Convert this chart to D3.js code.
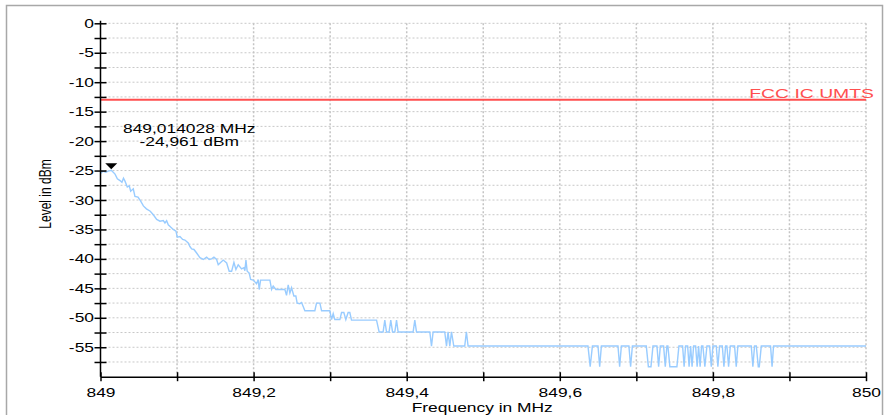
<!DOCTYPE html>
<html><head><meta charset="utf-8">
<script src="https://cdn.jsdelivr.net/npm/d3@7"></script>
<style>
html,body{margin:0;padding:0;background:#fff;}
text{font-family:"Liberation Sans",Arial,sans-serif;}
</style></head>
<body><svg id="c" width="889" height="415"></svg>
<script>
// ---- data ----
const xMajorTicks = [849, 849.2, 849.4, 849.6, 849.8, 850];
const xMinorTicks = [849.1, 849.3, 849.5, 849.7, 849.9];
const yMajorTicks = [0, -5, -10, -15, -20, -25, -30, -35, -40, -45, -50, -55];
const yMinorTicks = [-2.5, -7.5, -12.5, -17.5, -22.5, -27.5, -32.5, -37.5, -42.5, -47.5, -52.5, -57.5];
const xTitle = "Frequency in MHz";
const yTitle = "Level in dBm";
const limitLevel = -13;
const limitLabel = "FCC IC UMTS";
const markerFreq = 849.014028;
const markerLevel = -24.961;
const markerText = ["849,014028 MHz", "-24,961 dBm"];

const traceFreq = [
849.000,849.003,849.007,849.010,849.014,849.016,849.019,849.022,849.0255,849.028,849.030,849.032,849.035,849.0376,849.0394,849.0428,849.045,849.049,849.0525,849.056,849.060,849.065,849.069,849.0734,849.0777,849.082,849.0842,849.0864,849.0885,849.0916,849.095,849.0986,849.1003,849.1038,849.1073,849.1103,849.1146,849.1168,849.1191,849.1221,849.1256,849.1299,849.1342,849.1386,849.142,849.1452,849.1482,849.1517,849.1538,849.1569,849.1603,849.1648,849.1681,849.1713,849.1743,849.1769,849.1799,849.1843,849.1873,849.1886,849.190,849.1916,849.1943,849.1961,849.1995,849.2039,849.206,849.2073,849.2091,849.2213,849.2235,849.2256,849.2291,849.2409,849.243,849.2452,849.2474,849.2496,849.2526,849.2552,849.2569,849.2604,849.2627,849.267,849.280,849.2822,849.2866,849.2888,849.2996,849.3018,849.304,849.3061,849.3127,849.3149,849.3179,849.3205,849.3235,849.3257,849.3279,849.3606,849.364,849.3692,849.3714,849.3736,849.377,849.3792,849.3815,849.3845,849.3867,849.3888,849.4084,849.4106,849.4128,849.4302,849.4324,849.4345,849.4497,849.452,849.454,849.4563,849.4585,849.4615,849.4758,849.478,849.4802,
849.6368,849.6397,849.6426,849.6499,849.6521,849.6543,849.676,849.6782,849.6804,849.6903,849.6925,849.6948,849.713,849.7157,849.7191,849.7217,849.7269,849.7291,849.7313,849.7356,849.7378,849.7399,849.7412,849.7438,849.753,849.7556,849.7604,849.7624,849.7643,849.767,849.7689,849.7709,849.7728,849.7748,849.7774,849.7794,849.7813,849.7833,849.7852,849.7869,849.7895,849.7922,849.7957,849.7979,849.8,849.8044,849.8065,849.8087,849.8123,849.8144,849.8166,849.8183,849.8205,849.8227,849.8283,849.8305,849.8326,849.8501,849.8522,849.8544,849.8567,849.8593,849.8606,849.8632,849.8753,849.8773,849.8792,850.000
];
const traceLevel = [
-25.5,-25.1,-25.3,-25.1,-24.96,-25.2,-25.6,-26.4,-26.7,-27.0,-26.3,-26.8,-27.8,-27.6,-28.5,-28.1,-29.4,-29.5,-30.2,-31.0,-31.5,-31.9,-32.5,-33.3,-33.6,-33.5,-33.9,-33.5,-34.2,-34.6,-35.0,-35.3,-36.3,-36.2,-36.7,-36.8,-37.3,-37.9,-38.3,-38.4,-39.0,-39.8,-40.1,-39.7,-40.1,-40.0,-39.7,-40.1,-41.0,-40.6,-40.2,-40.7,-42.1,-42.1,-40.6,-41.8,-41.0,-41.7,-41.5,-42.0,-40.2,-42.1,-42.4,-43.5,-43.6,-44.2,-43.5,-45.2,-43.6,-43.6,-45.2,-44.6,-45.2,-45.2,-46.2,-44.4,-45.8,-44.9,-46.3,-46.3,-47.5,-47.6,-47.4,-48.8,-48.8,-47.5,-47.5,-48.8,-48.8,-50.3,-49.3,-50.3,-50.3,-49.1,-49.1,-50.3,-49.1,-49.1,-50.4,-50.4,-52.4,-52.4,-50.4,-52.4,-52.4,-50.4,-52.4,-52.4,-50.4,-52.4,-52.4,-50.4,-52.4,-52.4,-54.8,-52.4,-52.4,-54.8,-52.4,-54.8,-52.4,-54.8,-54.8,-52.4,-54.8,
-54.8,-58.3,-54.8,-54.8,-58.3,-54.8,-54.8,-58.3,-54.8,-54.8,-58.3,-54.8,-54.8,-58.3,-58.3,-54.8,-54.8,-58.3,-54.8,-54.8,-58.3,-54.8,-54.8,-58.3,-58.3,-54.8,-54.8,-58.3,-54.8,-54.8,-58.3,-54.8,-58.3,-54.8,-54.8,-58.3,-54.8,-58.3,-54.8,-54.8,-58.3,-54.8,-54.8,-58.3,-54.8,-54.8,-58.3,-54.8,-54.8,-58.3,-54.8,-54.8,-58.3,-54.8,-54.8,-58.3,-54.8,-54.8,-58.3,-54.8,-54.8,-58.3,-58.3,-54.8,-54.8,-58.3,-54.8,-54.8
];

// ---- drawing ----
const SX = 1.45; // horizontal glyph stretch seen in the reference
const svg = d3.select("#c");
const x = d3.scaleLinear().domain([849, 850]).range([100.5, 866]);
const y = d3.scaleLinear().domain([-60, 0]).range([376.7, 23.3]);
const fmt = d => String(d).replace(".", ",");

svg.append("rect").attr("x", 6.5).attr("y", 5.5).attr("width", 876).attr("height", 430)
  .attr("fill", "none").attr("stroke", "#a8a8a8").attr("stroke-width", 1.5);

// grid
const g = svg.append("g");
g.selectAll(".hg").data(yMajorTicks.concat(yMinorTicks)).join("line")
  .attr("x1", x(849)).attr("x2", x(850)).attr("y1", d => y(d)).attr("y2", d => y(d))
  .attr("stroke", "#c8c8c8").attr("stroke-width", 1).attr("stroke-dasharray", "2,2");
g.selectAll(".vg").data(xMajorTicks.slice(1).concat(xMinorTicks)).join("line")
  .attr("x1", d => x(d)).attr("x2", d => x(d)).attr("y1", y(0)).attr("y2", y(-60))
  .attr("stroke", "#c4c4c4").attr("stroke-width", 1.5).attr("stroke-dasharray", "2,2");

// limit line
svg.append("line").attr("x1", x(849)).attr("x2", x(850)).attr("y1", y(limitLevel)).attr("y2", y(limitLevel))
  .attr("stroke", "#ff4f4f").attr("stroke-width", 2);
svg.append("text").attr("transform", `translate(${x(850) + 8},${y(limitLevel) - 2}) scale(1.55,1)`)
  .attr("text-anchor", "end").attr("font-size", 12.5).attr("fill", "#ff4f4f").text(limitLabel);

// trace
const pts = traceFreq.map((f, i) => [f, traceLevel[i]]);
svg.append("path").datum(pts)
  .attr("d", d3.line().x(d => x(d[0])).y(d => y(d[1])))
  .attr("fill", "none").attr("stroke", "#99ccff").attr("stroke-width", 1.4);

// axes
const ax = svg.append("g").attr("transform", `translate(0,${y(-60)})`)
  .call(d3.axisBottom(x).tickValues(xMajorTicks.concat(xMinorTicks))
    .tickFormat(d => xMajorTicks.includes(d) ? fmt(d) : "").tickSizeOuter(0));
ax.select(".domain").attr("stroke", "#000").attr("stroke-width", 1.5);
ax.selectAll(".tick line").attr("y1", -4.5).attr("y2", 4.5).attr("stroke", "#000").attr("stroke-width", 1.5);
ax.selectAll(".tick text").attr("y", 0).attr("dy", 0)
  .attr("transform", `translate(0,20) scale(${SX},1)`).attr("font-size", 12).attr("fill", "#000");

const ay = svg.append("g").attr("transform", `translate(${x(849)},0)`)
  .call(d3.axisLeft(y).tickValues(yMajorTicks.concat(yMinorTicks))
    .tickFormat(d => yMajorTicks.includes(d) ? fmt(d) : "").tickSizeOuter(0));
ay.select(".domain").remove();
ay.append("line").attr("x1", 0).attr("x2", 0).attr("y1", y(0) - 2.5).attr("y2", y(-60))
  .attr("stroke", "#000").attr("stroke-width", 1.5);
ay.selectAll(".tick line").attr("x1", -6).attr("x2", 6).attr("stroke", "#000").attr("stroke-width", 1.5);
ay.selectAll(".tick text").attr("x", 0).attr("dy", "0.34em")
  .attr("transform", `translate(-6.5,0) scale(${SX},1)`).attr("font-size", 12).attr("fill", "#000");

// titles
svg.append("text").attr("transform", `translate(${x(849.5) - 1},412) scale(${SX},1)`)
  .attr("text-anchor", "middle").attr("font-size", 12).text(xTitle);
svg.append("text").attr("transform", `translate(51,194) rotate(-90) scale(1,${SX})`)
  .attr("text-anchor", "middle").attr("font-size", 12).text(yTitle);

// marker
const mx = x(markerFreq), my = y(markerLevel);
svg.append("path").attr("d", `M${mx - 6},${my - 7} L${mx + 6},${my - 7} L${mx},${my - 1} Z`).attr("fill", "#000");
svg.append("text").attr("transform", `translate(${mx + 78},132.5) scale(${SX},1)`)
  .attr("text-anchor", "middle").attr("font-size", 12).text(markerText[0]);
svg.append("text").attr("transform", `translate(${mx + 78},145.5) scale(${SX},1)`)
  .attr("text-anchor", "middle").attr("font-size", 12).text(markerText[1]);
</script></body></html>
